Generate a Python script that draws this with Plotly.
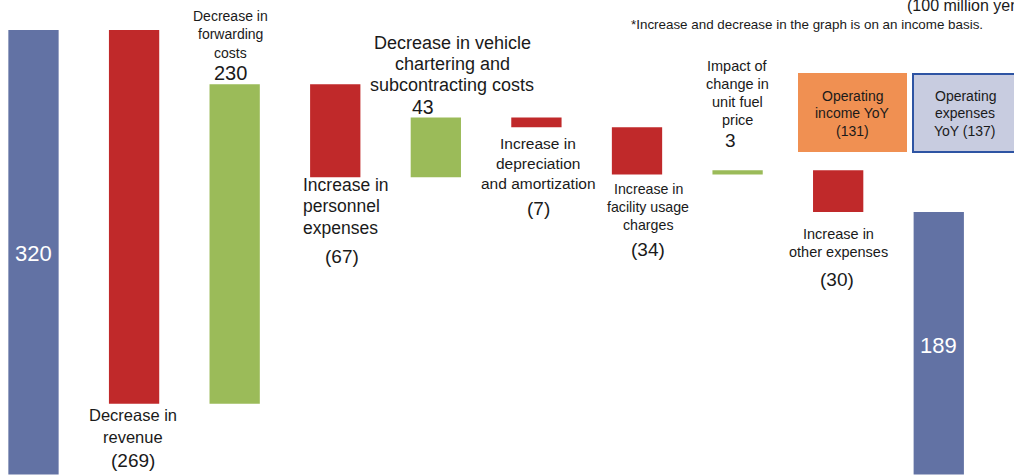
import plotly.graph_objects as go

# ---------------- data ----------------
categories = [
    "Operating income (prior)",
    "Decrease in revenue",
    "Decrease in forwarding costs",
    "Increase in personnel expenses",
    "Decrease in vehicle chartering and subcontracting costs",
    "Increase in depreciation and amortization",
    "Increase in facility usage charges",
    "Impact of change in unit fuel price",
    "Increase in other expenses",
    "Operating income (current)",
]
values = [320, -269, 230, -67, 43, -7, -34, 3, -30, 189]
measures = ["absolute"] + ["relative"] * 8 + ["total"]

label_lines = [
    [],
    ["Decrease in", "revenue"],
    ["Decrease in", "forwarding", "costs"],
    ["Increase in", "personnel", "expenses"],
    ["Decrease in vehicle", "chartering and", "subcontracting costs"],
    ["Increase in", "depreciation", "and amortization"],
    ["Increase in", "facility usage", "charges"],
    ["Impact of", "change in", "unit fuel", "price"],
    ["Increase in", "other expenses"],
    [],
]
unit_text = "(100 million yen)"
note_text = "*Increase and decrease in the graph is on an income basis."
box_income_lines = ["Operating", "income YoY", "(131)"]
box_expense_lines = ["Operating", "expenses", "YoY (137)"]


def fmt(v):
    return str(v) if v >= 0 else "(" + str(-v) + ")"


# ---------------- style ----------------
W, H = 1014, 475
FONT = "Liberation Sans, Arial, sans-serif"
BLUE = "#6272A4"
RED = "#C0292A"
GREEN = "#9BBB59"
ORANGE = "#F09052"
LAV = "#C8CCE0"
BORDER = "#2E54A3"
TXT = "#1a1a1a"


def px(x):
    return x / W


def py(y):
    return 1 - y / H


fig = go.Figure(
    go.Waterfall(
        x=categories,
        y=values,
        measure=measures,
        width=0.5,
        connector=dict(visible=False),
        increasing=dict(marker=dict(color=GREEN, line=dict(width=0))),
        decreasing=dict(marker=dict(color=RED, line=dict(width=0))),
        totals=dict(marker=dict(color=BLUE, line=dict(width=0))),
        hoverinfo="skip",
    )
)

annotations = []


def add_lines(lines, x, y0, dy, size, anchor="center", color=TXT):
    for i, t in enumerate(lines):
        annotations.append(
            dict(
                text=t,
                x=px(x),
                y=py(y0 + i * dy),
                xref="paper",
                yref="paper",
                xanchor=anchor,
                yanchor="middle",
                showarrow=False,
                font=dict(family=FONT, size=size, color=color),
            )
        )


# label text placement (pixel positions)
# (x, y_first_line, spacing, font size, anchor, value_x, value_y, value_size)
placements = [
    None,
    (133, 415, 22, 16.5, "center", 133, 460, 19),
    (230, 16, 18.5, 14, "center", 230, 73, 20),
    (301, 185, 21.5, 17.5, "left", 342, 256, 19),
    (452, 43, 21, 18, "center", 423, 107, 19.5),
    (538, 143, 20, 15.5, "center", 538, 209, 19),
    (648, 189, 18, 14.2, "center", 648, 249, 19),
    (737, 66, 18, 14.5, "center", 730, 140, 19),
    (838, 234, 18, 14.5, "center", 837, 279, 19),
    None,
]

for i, pl in enumerate(placements):
    if pl is None:
        continue
    x, y0, dy, fs, anc, vx, vy, vs = pl
    add_lines(label_lines[i], x, y0, dy, fs, anc)
    add_lines([fmt(values[i])], vx, vy, 0, vs)

# white labels in total bars
add_lines([str(values[0])], 33, 253, 0, 22, color="white")
add_lines([str(values[9])], 938, 345, 0, 22, color="white")

# boxes
shapes = [
    dict(type="rect", xref="paper", yref="paper",
         x0=px(798), x1=px(907), y0=py(152), y1=py(73),
         fillcolor=ORANGE, line=dict(width=0), layer="above"),
    dict(type="rect", xref="paper", yref="paper",
         x0=px(913), x1=px(1016), y0=py(152), y1=py(74),
         fillcolor=LAV, line=dict(width=2, color=BORDER), layer="above"),
]
add_lines(box_income_lines, 852, 96, 17.5, 14)
add_lines(box_expense_lines, 965, 96, 17.5, 14)

# unit and note
annotations.append(dict(text=unit_text, x=px(905), y=py(5), xref="paper", yref="paper",
                        xanchor="left", yanchor="middle", showarrow=False,
                        font=dict(family=FONT, size=16, color=TXT)))
annotations.append(dict(text=note_text, x=px(985), y=py(25), xref="paper", yref="paper",
                        xanchor="right", yanchor="middle", showarrow=False,
                        font=dict(family=FONT, size=13.4, color=TXT)))

fig.update_layout(
    width=W,
    height=H,
    margin=dict(l=0, r=0, t=0, b=0),
    paper_bgcolor="white",
    plot_bgcolor="white",
    showlegend=False,
    xaxis=dict(visible=False, range=[-0.333, 9.748]),
    yaxis=dict(visible=False, range=[-0.3, 341.6]),
    annotations=annotations,
    shapes=shapes,
)

fig.write_html("out.html")
